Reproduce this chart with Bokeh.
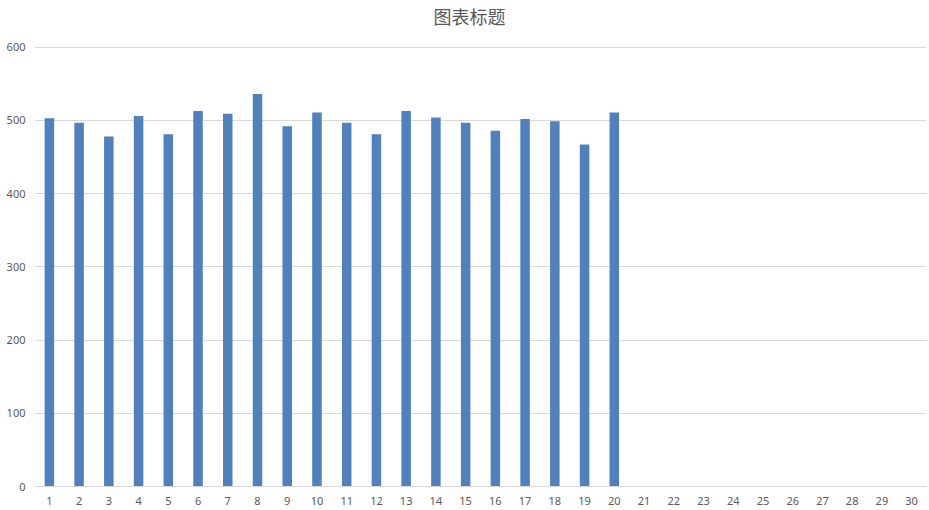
from bokeh.plotting import figure
from bokeh.models import ColumnDataSource, FactorRange, Range1d, FixedTicker, Title
from bokeh.embed import file_html
from bokeh.resources import INLINE

categories = [str(i) for i in range(1, 31)]
bar_labels = [str(i) for i in range(1, 21)]
bar_values = [503, 497, 478, 506, 481, 513, 509, 536, 492, 511,
              497, 481, 513, 504, 497, 486, 502, 499, 467, 511]
y_ticks = [0, 100, 200, 300, 400, 500, 600]

source = ColumnDataSource(data=dict(x=bar_labels, y=bar_values))

p = figure(
    x_range=FactorRange(*categories, range_padding=0),
    y_range=Range1d(0, 601),
    width=927, height=508,
    output_backend="svg",
    toolbar_location=None,
    min_border_left=34, min_border_right=1,
    min_border_top=46, min_border_bottom=22,
)
p.x_range.factor_padding = 0

p.vbar(x="x", top="y", source=source, width=0.32, color="#4f81bd", line_color=None)

# empty spacer between the frame and the title, then the title itself
spacer = Title(text=" ", text_font_size="14px", standoff=0)
p.add_layout(spacer, "above")
title = Title(text="图表标题", text_font="Noto Sans CJK SC", text_font_size="18px",
              text_font_style="normal", text_color="#595959",
              align="left", offset=399, standoff=0)
p.add_layout(title, "above")

p.outline_line_color = None
p.xgrid.grid_line_color = None
p.ygrid.grid_line_color = "#d9d9d9"
p.ygrid.grid_line_width = 1

p.yaxis.ticker = FixedTicker(ticks=y_ticks)
p.yaxis.axis_line_color = None
p.yaxis.major_tick_line_color = None
p.yaxis.minor_tick_line_color = None
p.yaxis.major_tick_out = 0
p.yaxis.major_tick_in = 0
p.yaxis.major_label_standoff = 9

p.xaxis.axis_line_color = "#d9d9d9"
p.xaxis.major_tick_line_color = None
p.xaxis.major_tick_out = 0
p.xaxis.major_tick_in = 0
p.xaxis.major_label_standoff = 10

for ax in (p.xaxis, p.yaxis):
    ax.major_label_text_font = "Noto Sans"
    ax.major_label_text_font_size = "11px"
    ax.major_label_text_color = "#595959"

open("out.html", "w").write(file_html(p, INLINE))
